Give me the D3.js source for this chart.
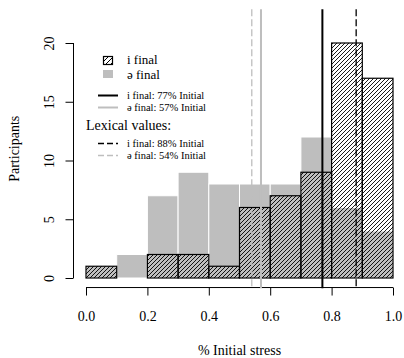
<!DOCTYPE html>
<html><head><meta charset="utf-8">
<script src="https://cdn.jsdelivr.net/npm/d3@7"></script>
<style>
body{margin:0;background:#fff}
svg{display:block}
svg text{font-family:"Liberation Serif","Times New Roman",serif !important;fill:#000}
</style>
</head><body>
<svg id="c" width="404" height="358" font-family="Liberation Serif"></svg>
<script>
// ---- data ----
const binEdges = [0, 0.1, 0.2, 0.3, 0.4, 0.5, 0.6, 0.7, 0.8, 0.9, 1.0];
const iFinalCounts = [1, 0, 2, 2, 1, 6, 7, 9, 20, 17];
const schwaFinalCounts = [1, 2, 7, 9, 8, 8, 8, 12, 6, 4];
const xTicks = [0, 0.2, 0.4, 0.6, 0.8, 1.0];
const yTicks = [0, 5, 10, 15, 20];
const seriesNames = ["i final", "ə final"];
const meanValues = [0.77, 0.57];
const meanLabels = ["i final: 77% Initial", "ə final: 57% Initial"];
const lexicalValues = [0.88, 0.54];
const lexicalLabels = ["i final: 88% Initial", "ə final: 54% Initial"];
const xTitle = "% Initial stress";
const yTitle = "Participants";
const lexicalTitle = "Lexical values:";

// ---- drawing ----
const SERIF = '"Liberation Serif","Times New Roman",serif';
const svg = d3.select("#c");
const GRAY = "#bebebe";
const x = d3.scaleLinear().domain([0, 1]).range([86, 393]);
const y = d3.scaleLinear().domain([0, 20]).range([278, 43]);
const plotTop = y(22.88), plotBottom = y(-0.88);

const defs = svg.append("defs");
const pat = defs.append("pattern").attr("id", "hatch")
  .attr("patternUnits", "userSpaceOnUse").attr("width", 4).attr("height", 4);
pat.append("path").attr("d", "M-1,1 l2,-2 M0,4 l4,-4 M3,5 l2,-2")
  .attr("stroke", "#000").attr("stroke-width", 0.9);
const pat2 = defs.append("pattern").attr("id", "hatchL")
  .attr("patternUnits", "userSpaceOnUse").attr("width", 5).attr("height", 5);
pat2.append("path").attr("d", "M-1,1 l2,-2 M0,5 l5,-5 M4,6 l2,-2")
  .attr("stroke", "#000").attr("stroke-width", 1);

const bins = d3.range(binEdges.length - 1).map(i => ({
  x0: binEdges[i], x1: binEdges[i + 1], a: iFinalCounts[i], b: schwaFinalCounts[i]
}));

// gray histogram first (white borders)
svg.append("g").selectAll("rect").data(bins).join("rect")
  .attr("x", d => x(d.x0)).attr("width", d => x(d.x1) - x(d.x0))
  .attr("y", d => y(d.b)).attr("height", d => y(0) - y(d.b))
  .attr("fill", GRAY).attr("stroke", "#fff").attr("stroke-width", 1);

// hatched histogram on top
svg.append("g").selectAll("rect").data(bins).join("rect")
  .attr("x", d => x(d.x0)).attr("width", d => x(d.x1) - x(d.x0))
  .attr("y", d => y(d.a)).attr("height", d => y(0) - y(d.a))
  .attr("fill", "url(#hatch)").attr("stroke", "#000").attr("stroke-width", 1.2);

// axes
const fs = 14;
const xAxis = svg.append("g").attr("transform", `translate(0,${plotBottom - 0.8})`)
  .call(d3.axisBottom(x).tickValues(xTicks).tickFormat(d3.format(".1f")).tickSize(8).tickSizeOuter(0));
xAxis.attr("font-family", SERIF);
xAxis.select(".domain").attr("d", `M${x(0)},0H${x(1)}`).attr("stroke-width", 1);
xAxis.selectAll("text").attr("font-size", fs).style("font-family", SERIF)
  .attr("dy", 0).attr("y", 33);

const yAxis = svg.append("g").attr("transform", `translate(73.5,0)`)
  .call(d3.axisLeft(y).tickValues(yTicks).tickSize(8).tickSizeOuter(0));
yAxis.attr("font-family", SERIF);
yAxis.select(".domain").attr("d", `M0,${y(0)}V${y(20)}`);
yAxis.selectAll("text").attr("font-size", fs).style("font-family", SERIF)
  .attr("x", 0).attr("dy", 0).attr("text-anchor", "middle")
  .attr("transform", "translate(-20,0) rotate(-90)");

// axis titles
svg.append("text").attr("x", (x.range()[0] - 12.3 + x.range()[1] + 12.3) / 2).attr("y", 355)
  .attr("text-anchor", "middle").attr("font-size", fs).style("font-family", SERIF).text(xTitle);
svg.append("text").attr("transform", `translate(19,${(plotTop + plotBottom) / 2}) rotate(-90)`)
  .attr("text-anchor", "middle").attr("font-size", fs).style("font-family", SERIF).text(yTitle);

// reference lines
const refs = [
  { v: meanValues[0], c: "#000", w: 2, dash: null },
  { v: meanValues[1], c: GRAY, w: 2, dash: null },
  { v: lexicalValues[0], c: "#000", w: 1.3, dash: "7,3" },
  { v: lexicalValues[1], c: GRAY, w: 1.3, dash: "7,3" }
];
svg.append("g").selectAll("line").data(refs).join("line")
  .attr("x1", d => x(d.v)).attr("x2", d => x(d.v))
  .attr("y1", plotTop).attr("y2", plotBottom)
  .attr("stroke", d => d.c).attr("stroke-width", d => d.w)
  .attr("stroke-dasharray", d => d.dash);

// legend
const lg = svg.append("g");
const lfs = 13;
lg.append("rect").attr("x", 103.5).attr("y", 56.5).attr("width", 9).attr("height", 8)
  .attr("fill", "url(#hatchL)").attr("stroke", "#000").attr("stroke-width", 1.2);
lg.append("rect").attr("x", 103).attr("y", 70).attr("width", 10).attr("height", 8)
  .attr("fill", GRAY);
lg.append("text").attr("x", 127).attr("y", 64).attr("font-size", lfs).style("font-family", SERIF).text(seriesNames[0]);
lg.append("text").attr("x", 127).attr("y", 78.5).attr("font-size", lfs).style("font-family", SERIF).text(seriesNames[1]);

const small = 10.5;
const legendRows = [
  { yy: 95.5, lab: meanLabels[0], r: refs[0] },
  { yy: 107.5, lab: meanLabels[1], r: refs[1] },
  { yy: 143.5, lab: lexicalLabels[0], r: refs[2] },
  { yy: 155.5, lab: lexicalLabels[1], r: refs[3] }
];
legendRows.forEach(d => {
  lg.append("line").attr("x1", 98).attr("x2", 118).attr("y1", d.yy).attr("y2", d.yy)
    .attr("stroke", d.r.c).attr("stroke-width", d.r.w).attr("stroke-dasharray", d.r.dash ? "6,3" : null);
  lg.append("text").attr("x", 127).attr("y", d.yy + 3.5).attr("font-size", small).style("font-family", SERIF).text(d.lab);
});
lg.append("text").attr("x", 86).attr("y", 130).attr("font-size", fs).style("font-family", SERIF).text(lexicalTitle);
</script>
</body></html>
